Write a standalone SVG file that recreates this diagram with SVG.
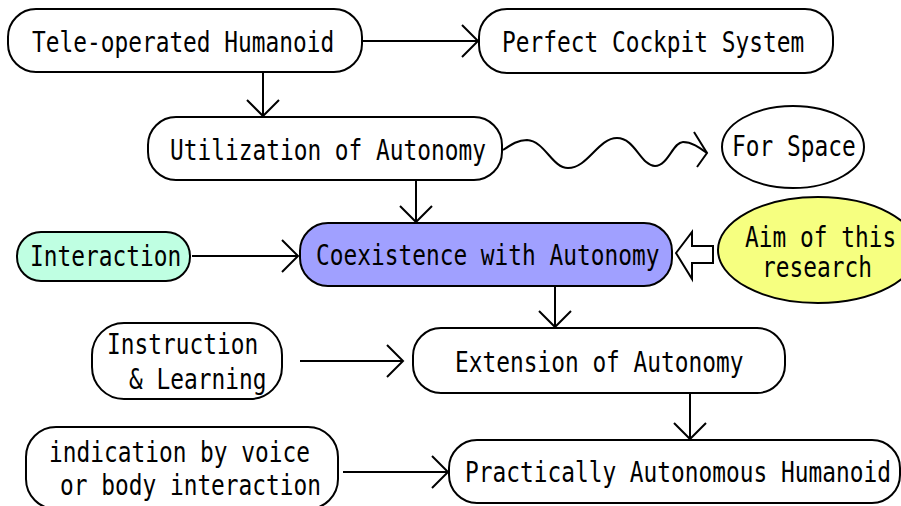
<svg xmlns="http://www.w3.org/2000/svg" width="901" height="506" viewBox="0 0 901 506">
  <style>
    .box { fill: #ffffff; stroke: #000000; stroke-width: 2; }
    .lbl { font-family: "DejaVu Sans Mono", "Liberation Mono", monospace; font-size: 28px; fill: #000000; }
    .edge { fill: none; stroke: #000000; stroke-width: 2; }
  </style>
  <defs>
    <marker id="vee" markerUnits="userSpaceOnUse" viewBox="-20 -20 40 40" markerWidth="40" markerHeight="40" refX="0" refY="0" orient="auto" overflow="visible">
      <path d="M-16,-16 L0,0 L-16,16" fill="none" stroke="#000000" stroke-width="2"/>
    </marker>
  </defs>
  <rect width="901" height="506" fill="#ffffff"/>

  <g id="connectors">
    <path class="edge" d="M362,41 H478" marker-end="url(#vee)"/>
    <path class="edge" d="M263,72 V116" marker-end="url(#vee)"/>
    <path class="edge" d="M416,180 V222" marker-end="url(#vee)"/>
    <path class="edge" d="M192,256 H298" marker-end="url(#vee)"/>
    <path class="edge" d="M555,286 V327" marker-end="url(#vee)"/>
    <path class="edge" d="M300,361 H403" marker-end="url(#vee)"/>
    <path class="edge" d="M690,393 V439" marker-end="url(#vee)"/>
    <path class="edge" d="M343,472 H448" marker-end="url(#vee)"/>
    <!-- wavy link towards the space application -->
    <path class="edge" d="M503,150 C512,144 518,140 527,140 C545,141 552,168 568,168 C588,168 598,138 617,138 C635,138 641,166 655,166 C668,166 673,142 683,142 C692,142 700,148 707,153"/>
    <path class="edge" d="M694,132 L707,153 L697,167"/>
    <!-- hollow block arrow -->
    <polygon class="box" points="676,253 692,232 692,246 713,246 713,263 692,263 692,279"/>
  </g>

  <!-- labels use a monospace face condensed horizontally to a 13.75px pitch -->
  <g id="tele-operated">
    <rect class="box" x="8" y="9" width="354" height="63" rx="28" ry="28"/>
    <text class="lbl" transform="translate(32,52) scale(0.8155,1)">Tele-operated Humanoid</text>
  </g>

  <g id="cockpit">
    <rect class="box" x="479" y="9" width="354" height="64" rx="28" ry="28"/>
    <text class="lbl" transform="translate(502,52) scale(0.8155,1)">Perfect Cockpit System</text>
  </g>

  <g id="utilization">
    <rect class="box" x="148" y="117" width="354" height="63" rx="28" ry="28"/>
    <text class="lbl" transform="translate(170,160) scale(0.8155,1)">Utilization of Autonomy</text>
  </g>

  <g id="space">
    <ellipse class="box" cx="793" cy="147" rx="71" ry="41"/>
    <text class="lbl" transform="translate(732,156) scale(0.8155,1)">For Space</text>
  </g>

  <g id="interaction">
    <rect class="box" x="17" y="232" width="173" height="49" rx="24" ry="24" style="fill:#bfffe2"/>
    <text class="lbl" transform="translate(30,266) scale(0.8155,1)">Interaction</text>
  </g>

  <g id="coexistence">
    <rect class="box" x="300" y="223" width="372" height="63" rx="28" ry="28" style="fill:#a0a0ff"/>
    <text class="lbl" transform="translate(316,265) scale(0.8155,1)">Coexistence with Autonomy</text>
  </g>

  <g id="aim">
    <ellipse class="box" cx="818" cy="250" rx="100" ry="53" style="fill:#f6ff80"/>
    <text class="lbl" transform="translate(745,247) scale(0.8155,1)">Aim of this</text>
    <text class="lbl" transform="translate(762,277) scale(0.8155,1)">research</text>
  </g>

  <g id="instruction">
    <rect class="box" x="92" y="323" width="190" height="76" rx="32" ry="32"/>
    <text class="lbl" transform="translate(107,354) scale(0.8155,1)">Instruction</text>
    <text class="lbl" transform="translate(129,389) scale(0.8155,1)">&amp; Learning</text>
  </g>

  <g id="extension">
    <rect class="box" x="413" y="328" width="372" height="65" rx="28" ry="28"/>
    <text class="lbl" transform="translate(455,372) scale(0.8155,1)">Extension of Autonomy</text>
  </g>

  <g id="indication">
    <rect class="box" x="26" y="427" width="312" height="82" rx="30" ry="30"/>
    <text class="lbl" transform="translate(49,462) scale(0.8155,1)">indication by voice</text>
    <text class="lbl" transform="translate(60,495) scale(0.8155,1)">or body interaction</text>
  </g>

  <g id="practical">
    <rect class="box" x="449" y="440" width="451" height="63" rx="28" ry="28"/>
    <text class="lbl" transform="translate(465,482) scale(0.8155,1)">Practically Autonomous Humanoid</text>
  </g>
</svg>
